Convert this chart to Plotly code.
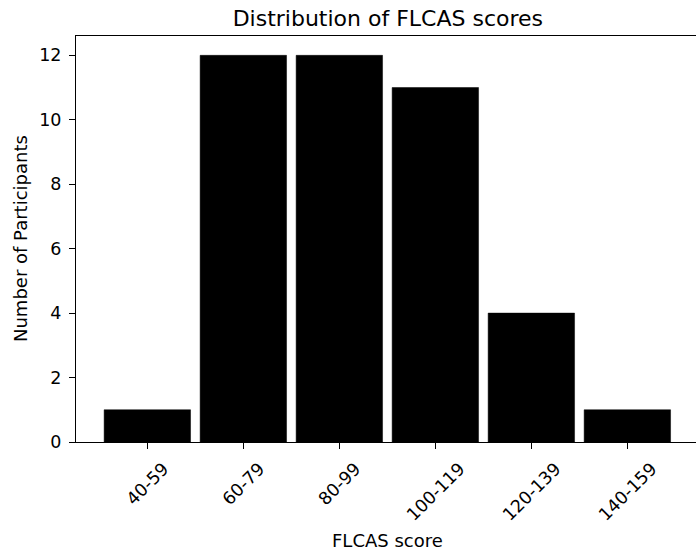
import plotly.graph_objects as go

categories = ["40-59", "60-79", "80-99", "100-119", "120-139", "140-159"]
counts = [1, 12, 12, 11, 4, 1]
y_ticks = [0, 2, 4, 6, 8, 10, 12]

FONT = "DejaVu Sans"
FS = 17.5

W, H = 696, 554

positions = list(range(len(categories)))

fig = go.Figure(
    go.Bar(
        x=positions,
        y=counts,
        width=0.9,
        marker=dict(color="black", line=dict(color="black", width=0.5)),
    )
)

annotations = []
for i, lab in enumerate(categories):
    annotations.append(dict(
        x=i, xref="x", y=0, yref="paper",
        text=lab, showarrow=False, textangle=-45,
        xanchor="center", yanchor="top", yshift=-14,
        font=dict(family=FONT, size=FS, color="black"),
    ))

annotations.append(dict(
    x=0.503, xref="paper", y=0, yref="paper", yanchor="middle", yshift=-98,
    text="FLCAS score", showarrow=False, xanchor="center",
    font=dict(family=FONT, size=18, color="black"),
))
annotations.append(dict(
    x=(20 - 76) / 620, xref="paper", y=0.5, yref="paper",
    text="Number of Participants", showarrow=False, textangle=-90,
    xanchor="center", yanchor="middle",
    font=dict(family=FONT, size=18, color="black"),
))

fig.update_layout(
    width=W, height=H,
    margin=dict(l=76, r=0, t=36, b=112, autoexpand=False),
    paper_bgcolor="white", plot_bgcolor="white",
    showlegend=False,
    title=dict(
        text="Distribution of FLCAS scores",
        x=0.503, xref="paper", xanchor="center",
        y=1 - 18 / H, yref="container", yanchor="middle",
        font=dict(family=FONT, size=22, color="black"),
    ),
    annotations=annotations,
    font=dict(family=FONT, size=FS, color="black"),
)

fig.update_xaxes(
    range=[-0.743, 5.715], tickvals=positions, ticktext=[""] * len(positions),
    showticklabels=False, ticks="outside", ticklen=6, tickcolor="black", tickwidth=1,
    showline=True, linecolor="black", linewidth=1, mirror=True,
    showgrid=False, zeroline=False, fixedrange=True,
)
fig.update_yaxes(
    range=[0, 12.6], tickvals=y_ticks,
    ticks="outside", ticklen=6, tickcolor="black", tickwidth=1,
    ticklabelstandoff=4,
    showline=True, linecolor="black", linewidth=1, mirror=False,
    showgrid=False, zeroline=False, fixedrange=True,
    tickfont=dict(family=FONT, size=FS, color="black"),
)

fig.write_html(
    "out.html",
    config={"displayModeBar": False},
    post_script="document.body.style.margin='0';document.body.style.overflow='hidden';",
)
